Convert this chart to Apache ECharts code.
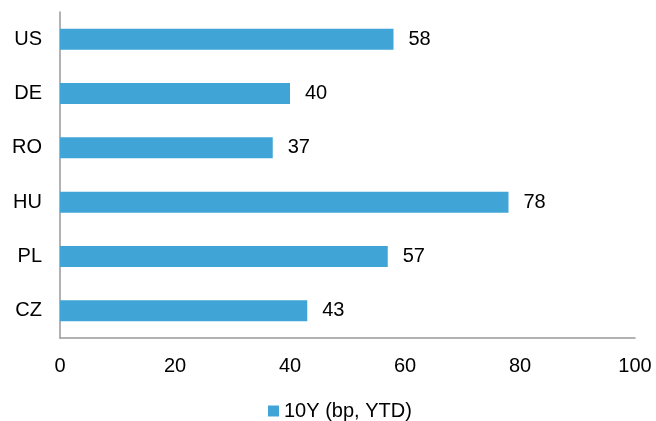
<!DOCTYPE html>
<html><head><meta charset="utf-8">
<script src="https://cdn.jsdelivr.net/npm/echarts@6/dist/echarts.min.js"></script>
<style>html,body{margin:0;padding:0;background:#fff}#c{width:656px;height:421px}</style>
</head><body><div id="c"></div>
<script>
const categories = ['CZ', 'PL', 'HU', 'RO', 'DE', 'US'];
const values = [43, 57, 78, 37, 40, 58];
const seriesName = '10Y (bp, YTD)';
const xTicks = [0, 20, 40, 60, 80, 100];

const chart = echarts.init(document.getElementById('c'));
chart.setOption({
  animation: false,
  textStyle: { fontFamily: 'Liberation Sans, Arial, sans-serif' },
  grid: { left: 60, right: 21, top: 12, bottom: 83, containLabel: false },
  legend: {
    data: [seriesName], bottom: 0, left: 263, padding: [5, 5, 0, 5],
    itemWidth: 11, itemHeight: 11, itemGap: 3,
    textStyle: { fontSize: 20, color: '#000' }, icon: 'rect'
  },
  xAxis: {
    type: 'value', min: xTicks[0], max: xTicks[xTicks.length - 1], interval: 20,
    splitLine: { show: false },
    axisLine: { show: true, lineStyle: { color: '#999', width: 1.5 } },
    axisTick: { show: false },
    axisLabel: { fontSize: 20, color: '#000', margin: 18 }
  },
  yAxis: {
    type: 'category', data: categories,
    axisLine: { show: true, lineStyle: { color: '#999', width: 1.5 } },
    axisTick: { show: false },
    axisLabel: { fontSize: 20, color: '#000', margin: 18 }
  },
  series: [{
    name: seriesName, type: 'bar', data: values, barWidth: 21,
    itemStyle: { color: '#41A4D6' },
    label: { show: true, position: 'right', distance: 15, fontSize: 20, color: '#000' }
  }]
});
</script></body></html>
